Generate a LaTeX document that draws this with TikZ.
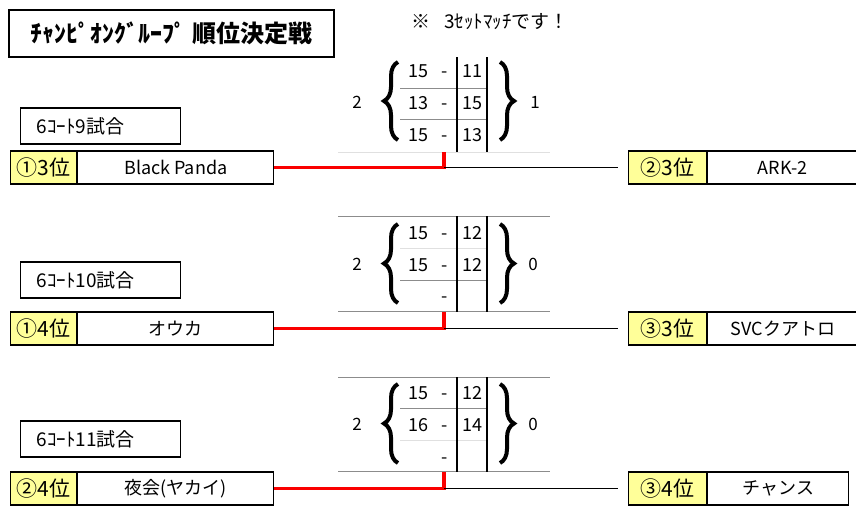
\documentclass[tikz,border=0pt]{standalone}
\usepackage{fontspec}
\setmainfont{Noto Sans CJK JP}
\usetikzlibrary{positioning,decorations.pathreplacing}
\definecolor{rankyellow}{RGB}{255,255,153}
\definecolor{wincolor}{RGB}{250,0,0}

\begin{document}
\begin{tikzpicture}
	[x=1pt,y=-1pt,
		title node/.style={draw,line width=1.5pt,minimum width=325pt,minimum height=47pt,inner sep=0pt,font=\bfseries\fontsize{24}{24}\selectfont},
		court node/.style={draw,line width=1.2pt,minimum height=36pt,text width=128pt,inner xsep=16pt,align=left,font=\fontsize{19}{19}\selectfont},
		rank node/.style={draw,line width=1.2pt,fill=rankyellow,minimum height=33pt,minimum width=66pt,inner sep=0pt,font=\fontsize{21}{21}\selectfont},
		team node/.style={draw,line width=1.2pt,minimum height=33pt,inner sep=0pt,font=\fontsize{18}{18}\selectfont},
		score node/.style={inner sep=0pt,anchor=base,font=\fontsize{18}{18}\selectfont},
		set node/.style={inner sep=0pt,font=\fontsize{17}{17}\selectfont},
		win line/.style={wincolor,line width=3.5pt},
		lose line/.style={line width=1.3pt},
		grid line/.style={black!45,line width=0.9pt},
		faint line/.style={black!12,line width=0.9pt},
		col line/.style={line width=1.2pt},
		score brace/.style={decorate,decoration={brace,amplitude=14pt},line width=4pt}]

	\useasboundingbox (0,0) rectangle (856,506);

	\node[title node] (title) at (171.5,33.5) {ﾁｬﾝﾋﾟｵﾝｸﾞﾙｰﾌﾟ 順位決定戦};
	\node[inner sep=0pt,anchor=west,font=\fontsize{19}{19}\selectfont] (note) at (411,22) {※\hspace{14pt}3ｾｯﾄﾏｯﾁです！};

	\node[court node,anchor=west] (court9) at (20,126) {6ｺｰﾄ9試合};
	\node[court node,anchor=west] (court10) at (20,280) {6ｺｰﾄ10試合};
	\node[court node,anchor=west] (court11) at (20,439) {6ｺｰﾄ11試合};

	\node[rank node,anchor=west] (rankA) at (10,167.5) {①3位};
	\node[team node,minimum width=196pt,right=0pt of rankA] (teamA) {Black Panda};
	\node[rank node,minimum width=78pt,anchor=west] (rankB) at (628,167.5) {②3位};
	\node[team node,minimum width=150pt,right=0pt of rankB] (teamB) {ARK-2};

	\node[rank node,anchor=west] (rankC) at (10,328.5) {①4位};
	\node[team node,minimum width=196pt,right=0pt of rankC] (teamC) {オウカ};
	\node[rank node,minimum width=78pt,anchor=west] (rankD) at (628,328.5) {③3位};
	\node[team node,minimum width=150pt,right=0pt of rankD] (teamD) {SVCクアトロ};

	\node[rank node,anchor=west] (rankE) at (10,488.5) {②4位};
	\node[team node,minimum width=196pt,right=0pt of rankE] (teamE) {夜会(ヤカイ)};
	\node[rank node,minimum width=78pt,anchor=west] (rankF) at (628,488.5) {③4位};
	\node[team node,minimum width=141pt,right=0pt of rankF] (teamF) {チャンス};

	\node[set node] (setA) at (357,102) {2};
	\node[set node] (setB) at (535,102) {1};
	\node[score node] (a1) at (418,77) {15};  \node[score node] (d1) at (445,77) {-};  \node[score node] (b1) at (472,77) {11};
	\node[score node] (a2) at (418,109) {13}; \node[score node] (d2) at (445,109) {-}; \node[score node] (b2) at (472,109) {15};
	\node[score node] (a3) at (418,141) {15}; \node[score node] (d3) at (445,141) {-}; \node[score node] (b3) at (472,141) {13};

	\node[set node] (setC) at (357,264) {2};
	\node[set node] (setD) at (533,264) {0};
	\node[score node] (c1) at (418,239) {15}; \node[score node] (e1) at (445,239) {-}; \node[score node] (f1) at (472,239) {12};
	\node[score node] (c2) at (418,271) {15}; \node[score node] (e2) at (445,271) {-}; \node[score node] (f2) at (472,271) {12};
	\node[score node] (e3) at (445,302) {-};

	\node[set node] (setE) at (357,424) {2};
	\node[set node] (setF) at (533,424) {0};
	\node[score node] (g1) at (418,399) {15}; \node[score node] (h1) at (445,399) {-}; \node[score node] (k1) at (472,399) {12};
	\node[score node] (g2) at (418,431) {16}; \node[score node] (h2) at (445,431) {-}; \node[score node] (k2) at (472,431) {14};
	\node[score node] (h3) at (445,463) {-};

	\draw[grid line] (400,88.5) -- (487,88.5);
	\draw[grid line] (400,119.5) -- (487,119.5);
	\draw[faint line] (338,152) -- (550,152);
	\draw[col line] (457,57) -- (457,152);
	\draw[col line] (487,57) -- (487,152);
	\draw[score brace] (398,140) -- (398,62);
	\draw[score brace] (500,62) -- (500,140);

	\draw[grid line] (338,216) -- (550,216);
	\draw[faint line] (400,248) -- (487,248);
	\draw[grid line] (400,280) -- (487,280);
	\draw[grid line] (338,311.5) -- (550,311.5);
	\draw[col line] (457,216) -- (457,311.5);
	\draw[col line] (487,216) -- (487,311.5);
	\draw[score brace] (398,303) -- (398,224);
	\draw[score brace] (500,224) -- (500,303);

	\draw[grid line] (338,377) -- (550,377);
	\draw[grid line] (400,408) -- (487,408);
	\draw[faint line] (400,440) -- (487,440);
	\draw[grid line] (338,471.5) -- (550,471.5);
	\draw[col line] (457,377) -- (457,471.5);
	\draw[col line] (487,377) -- (487,471.5);
	\draw[score brace] (398,463) -- (398,384);
	\draw[score brace] (500,384) -- (500,463);

	\coordinate (turnA) at (444,152);
	\coordinate (endA) at (618,167.5);
	\coordinate (turnC) at (444,311.5);
	\coordinate (endC) at (618,328.5);
	\coordinate (turnE) at (444,471.5);
	\coordinate (endE) at (618,488.5);

	\draw[win line] (teamA.east) -| (turnA);
	\draw[lose line] (turnA |- teamA.east) -- (endA);
	\draw[win line] (teamC.east) -| (turnC);
	\draw[lose line] (turnC |- teamC.east) -- (endC);
	\draw[win line] (teamE.east) -| (turnE);
	\draw[lose line] (turnE |- teamE.east) -- (endE);
\end{tikzpicture}
\end{document}
